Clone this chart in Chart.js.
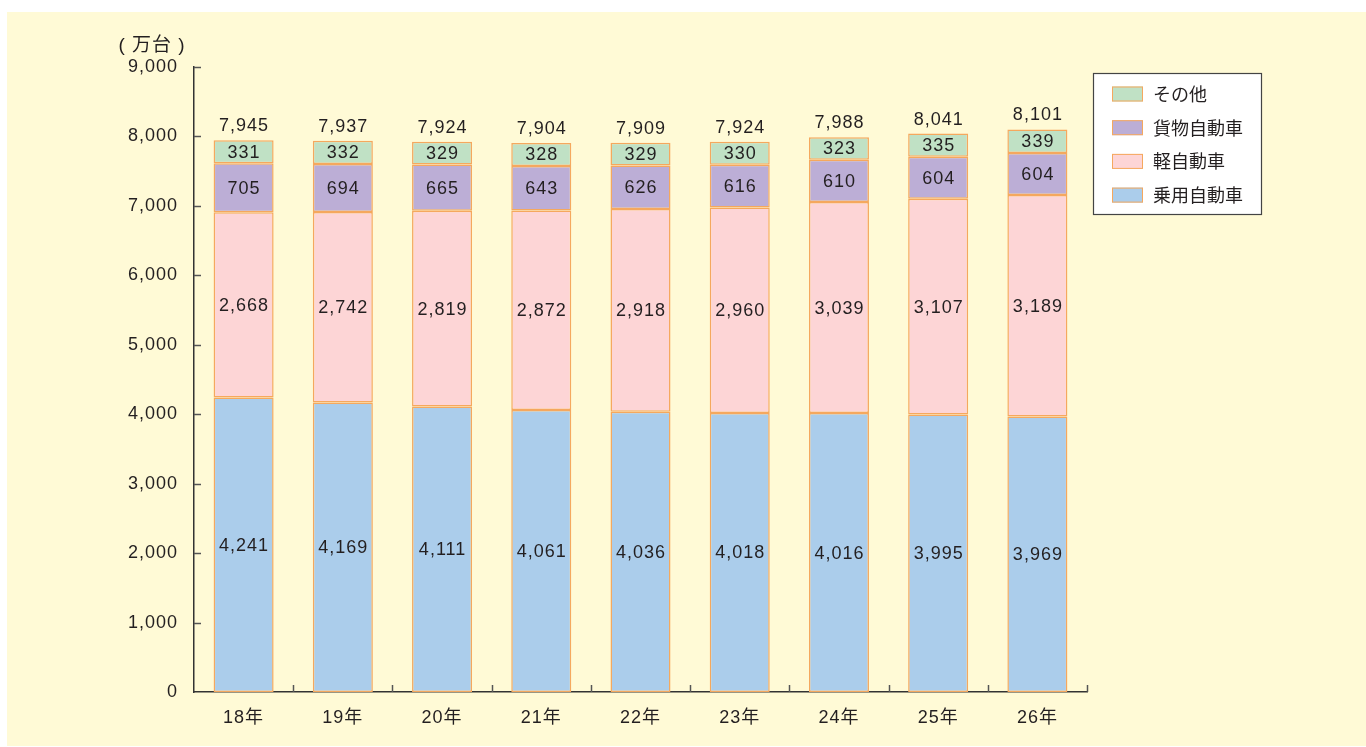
<!DOCTYPE html>
<html>
<head>
<meta charset="utf-8">
<script src="https://cdn.jsdelivr.net/npm/chart.js@4"></script>
<style>
  html, body { margin: 0; padding: 0; background: #ffffff; overflow: hidden; }
  #wrap { position: relative; width: 1366px; height: 747px; }
</style>
</head>
<body>
<div id="wrap"><canvas id="chart"></canvas></div>
<script>
// data (万台)
const years = ["18年", "19年", "20年", "21年", "22年", "23年", "24年", "25年", "26年"];
const passenger = [4241, 4169, 4111, 4061, 4036, 4018, 4016, 3995, 3969];
const kei = [2668, 2742, 2819, 2872, 2918, 2960, 3039, 3107, 3189];
const freight = [705, 694, 665, 643, 626, 616, 610, 604, 604];
const others = [331, 332, 329, 328, 329, 330, 323, 335, 339];
const totals = [7945, 7937, 7924, 7904, 7909, 7924, 7988, 8041, 8101];
const yTicks = [0, 1000, 2000, 3000, 4000, 5000, 6000, 7000, 8000, 9000];

const FONT = '"Liberation Sans", "Noto Sans CJK JP", sans-serif';
const JFONT = '"Noto Sans CJK JP", "Liberation Sans", sans-serif';
const TEXT = "#231f20";
const EDGE = "#f5a85e";

function fmt(v) {
    return v.toLocaleString("en-US");
}

// yellow panel behind everything, and the wide letter spacing of the original
const panel = {
    id: "panel",
    beforeDraw(chart) {
        const ctx = chart.ctx;
        ctx.letterSpacing = "1px";
        ctx.save();
        ctx.fillStyle = "#ffffff";
        ctx.fillRect(0, 0, chart.width, chart.height);
        ctx.fillStyle = "#fffad6";
        ctx.fillRect(7, 12, chart.width - 7, chart.height - 13);
        ctx.restore();
    }
};

// inward tick marks and the unit caption
const axisBits = {
    id: "axisBits",
    afterDraw(chart) {
        const ctx = chart.ctx;
        const x = chart.scales.x;
        const y = chart.scales.y;
        const area = chart.chartArea;
        ctx.save();
        ctx.strokeStyle = "#555";
        ctx.lineWidth = 1.5;
        yTicks.forEach(v => {
            if (v === 0) return;
            const py = Math.round(y.getPixelForValue(v)) + 0.5;
            ctx.beginPath();
            ctx.moveTo(area.left, py);
            ctx.lineTo(area.left + 7, py);
            ctx.stroke();
        });
        const half = (x.getPixelForValue(1) - x.getPixelForValue(0)) / 2;
        years.forEach((yr, i) => {
            const px = Math.round(x.getPixelForValue(i) + half) + 0.5;
            ctx.beginPath();
            ctx.moveTo(px, area.bottom);
            ctx.lineTo(px, area.bottom - 7);
            ctx.stroke();
        });
        ctx.fillStyle = TEXT;
        ctx.font = "19px " + FONT;
        ctx.textAlign = "center";
        ctx.textBaseline = "middle";
        ctx.fillText("( 万台 )", 152, 46);
        ctx.restore();
    }
};

// values inside each segment and totals above the stacks
const valueLabels = {
    id: "valueLabels",
    afterDatasetsDraw(chart) {
        const ctx = chart.ctx;
        ctx.save();
        ctx.fillStyle = TEXT;
        ctx.font = "18px " + FONT;
        ctx.textAlign = "center";
        ctx.textBaseline = "middle";
        chart.data.datasets.forEach((ds, di) => {
            const meta = chart.getDatasetMeta(di);
            meta.data.forEach((bar, i) => {
                const mid = (bar.y + bar.base) / 2;
                ctx.fillText(fmt(ds.data[i]), bar.x + 0.5, mid + 1);
            });
        });
        const topMeta = chart.getDatasetMeta(chart.data.datasets.length - 1);
        topMeta.data.forEach((bar, i) => {
            ctx.fillText(fmt(totals[i]), bar.x + 0.5, bar.y - 14);
        });
        ctx.restore();
    }
};

// boxed legend at the upper right, top series first
const boxLegend = {
    id: "boxLegend",
    afterDraw(chart) {
        const ctx = chart.ctx;
        const left = 1093, top = 73, w = 168, h = 141;
        ctx.save();
        ctx.fillStyle = "#ffffff";
        ctx.fillRect(left, top, w, h);
        ctx.strokeStyle = "#444";
        ctx.lineWidth = 1.2;
        ctx.strokeRect(left + 0.5, top + 0.5, w, h);
        const items = chart.data.datasets.slice().reverse();
        ctx.font = "18px " + JFONT;
        ctx.letterSpacing = "0px";
        ctx.textAlign = "left";
        ctx.textBaseline = "middle";
        items.forEach((ds, i) => {
            const cy = 94 + i * 33.7;
            ctx.fillStyle = ds.backgroundColor;
            ctx.fillRect(1112, cy - 7.5, 31, 15);
            ctx.strokeStyle = EDGE;
            ctx.lineWidth = 1;
            ctx.strokeRect(1112.5, cy - 7, 30, 14);
            ctx.fillStyle = TEXT;
            ctx.fillText(ds.label, 1153, cy);
        });
        ctx.restore();
    }
};

function makeSet(label, data, color) {
    return {
        label: label,
        data: data,
        backgroundColor: color,
        borderColor: EDGE,
        borderWidth: 1.5,
        borderSkipped: false,
        barPercentage: 1,
        categoryPercentage: 0.605
    };
}

new Chart(document.getElementById("chart"), {
    type: "bar",
    data: {
        labels: years,
        datasets: [
            makeSet("乗用自動車", passenger, "#abcdeb"),
            makeSet("軽自動車", kei, "#fdd5d6"),
            makeSet("貨物自動車", freight, "#bcaed6"),
            makeSet("その他", others, "#c0e1c5")
        ]
    },
    options: {
        responsive: true,
        maintainAspectRatio: false,
        animation: false,
        layout: {
            padding: { left: 0, right: 279, top: 67, bottom: 0 }
        },
        plugins: {
            legend: { display: false },
            tooltip: { enabled: false }
        },
        scales: {
            x: {
                stacked: true,
                grid: { display: false, drawTicks: false },
                border: { display: true, color: "#333", width: 1.5 },
                ticks: {
                    color: TEXT,
                    font: { family: FONT, size: 18 },
                    padding: 15
                },
                afterFit: function (scale) { scale.height = 55; }
            },
            y: {
                stacked: true,
                min: 0,
                max: 9000,
                grid: { display: false, drawTicks: false },
                border: { display: true, color: "#333", width: 1.5 },
                ticks: {
                    stepSize: 1000,
                    color: TEXT,
                    font: { family: FONT, size: 18 },
                    padding: 16,
                    callback: function (v) { return fmt(v); }
                },
                afterFit: function (scale) { scale.width = 194; }
            }
        }
    },
    plugins: [panel, axisBits, valueLabels, boxLegend]
});
</script>
</body>
</html>
